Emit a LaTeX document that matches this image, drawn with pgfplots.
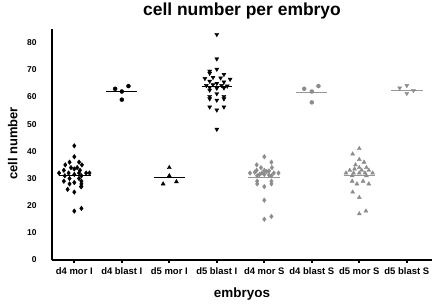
\documentclass[border=0pt]{standalone}
\usepackage{pgfplots}
\pgfplotsset{compat=1.18}
\usepackage{fontspec}
\setmainfont{Liberation Sans}
\definecolor{sgray}{RGB}{140,140,140}
\definecolor{lgray}{RGB}{150,150,150}
\begin{document}
\begin{tikzpicture}
\begin{axis}[
  at={(74.3bp,44bp)}, anchor=origin,
  scale only axis, width=380bp, height=231bp,
  xmin=-0.47, xmax=7.53, ymin=0, ymax=85,
  axis x line=bottom, axis y line=left,
  axis line style={line width=2.8pt, -},
  xtick={0,...,7},
  xticklabels={d4 mor I, d4 blast I, d5 mor I, d5 blast I, d4 mor S, d4 blast S, d5 mor S, d5 blast S},
  ytick={0,10,...,80},
  tick align=outside,
  major tick length=3pt,
  xtick style={line width=2pt, black},
  ytick style={draw=none},
  /pgf/number format/assume math mode=true,
  xticklabel style={font=\bfseries\fontsize{9.5}{11}\selectfont, yshift=-1pt},
  yticklabel style={font=\bfseries\fontsize{8.5}{10}\selectfont, xshift=-9pt},
  title={cell number per embryo},
  title style={font=\bfseries\fontsize{17.5}{20}\selectfont, at={(0.5,1.05)}, anchor=center, yshift=0pt},
  xlabel={embryos},
  xlabel style={font=\bfseries\fontsize{13.5}{16}\selectfont, at={(0.5,-0.147)}, anchor=center, yshift=0pt},
  ylabel={cell number},
  ylabel style={font=\bfseries\fontsize{13}{16}\selectfont, at={(-0.103,0.504)}, anchor=center, xshift=0pt},
  clip=false,
]
% d4 mor I
\addplot[only marks, mark=diamond*, mark size=2.3pt, black] coordinates {
(0,42) (0,38) (-0.1,36) (0.1,36) (-0.19,35) (0.16,35) (-0.07,34) (0.06,34)
(-0.22,33) (0,33.5) (0.12,33) (-0.32,32) (-0.12,32) (0.1,32) (0.25,32) (0.32,32)
(-0.2,31) (0,31.5) (0.15,31) (-0.1,30) (0.1,30) (-0.22,29) (0.15,29) (0,28.5)
(-0.1,28) (0.15,28) (0.15,27) (-0.14,26) (0.14,27) (0,25) (0.15,19) (0,18)};
\addplot[black, line width=0.8pt] coordinates {(-0.33,31) (0.35,31)};
% d4 blast I
\addplot[only marks, mark=*, mark size=2pt, black] coordinates {
(0.86,63) (1.14,64) (1,62) (1,59)};
\addplot[black, line width=0.8pt] coordinates {(0.67,62) (1.33,62)};
% d5 mor I
\addplot[only marks, mark=triangle*, mark size=2.3pt, black] coordinates {
(2,34) (2,31) (1.87,28) (2.15,28.8)};
\addplot[black, line width=0.8pt] coordinates {(1.67,30.5) (2.33,30.5)};
% d5 blast I
\addplot[only marks, mark=triangle*, mark options={rotate=180}, mark size=2.3pt, black] coordinates {
(3,83) (3,74) (3,70.2) (2.85,69.5) (2.85,68.7) (3.15,68.3) (2.75,66.8) (2.92,67.2)
(3.08,67) (3.28,66.5) (2.85,65.8) (3.15,65.5) (3,65) (2.78,64.2) (2.92,64.5) (3.1,64.2)
(3.22,64) (2.85,63.5) (3,63.2) (3.15,63.3) (2.85,62.5) (2.85,60.2) (3,61.2) (3.15,60.2)
(2.85,59.3) (3.15,59.3) (3,58.8) (2.85,56.3) (3.15,56.3) (3,55.2) (3,48.1)};
\addplot[black, line width=0.8pt] coordinates {(2.68,63.7) (3.33,63.7)};
% d4 mor S
\addplot[only marks, mark=diamond*, mark size=2.3pt, sgray] coordinates {
(4,38) (4.15,36) (3.84,35) (3.93,34) (4.16,34) (3.84,33) (4,33) (4.1,32.8)
(3.7,32) (3.8,32.3) (3.95,32) (4.05,32.5) (4.2,32) (4.3,32) (3.9,31.5) (4,31.5)
(4.1,31.2) (3.85,31) (4.15,31) (3.85,29) (4.15,29) (3.85,28) (4.15,28) (4,27)
(4,22) (4.15,16) (4,15)};
\addplot[lgray, line width=0.8pt] coordinates {(3.66,30.5) (4.33,30.5)};
% d4 blast S
\addplot[only marks, mark=*, mark size=2pt, sgray] coordinates {
(4.84,63) (5.14,64) (5,62) (5,58)};
\addplot[lgray, line width=0.8pt] coordinates {(4.67,61.8) (5.33,61.8)};
% d5 mor S
\addplot[only marks, mark=triangle*, mark size=2.3pt, sgray] coordinates {
(6,41) (5.86,39) (6,37) (6.1,36) (5.92,35) (6.15,34) (5.8,33) (6,34)
(5.9,33.5) (6.05,33) (6.2,33) (5.72,32) (5.88,32) (6,32) (6.12,32) (6.28,32)
(5.85,31) (6.15,31) (5.85,29) (6.08,29) (5.95,28) (6.2,28) (5.86,25) (6,23)
(6.14,18) (6,17)};
\addplot[lgray, line width=0.8pt] coordinates {(5.67,31) (6.34,31)};
% d5 blast S
\addplot[only marks, mark=triangle*, mark options={rotate=180}, mark size=2.3pt, sgray] coordinates {
(6.85,63.3) (7,64.2) (7.14,62.4) (7,61.3)};
\addplot[lgray, line width=0.8pt] coordinates {(6.67,62.5) (7.34,62.5)};
\end{axis}
\pgfresetboundingbox
\useasboundingbox (0,0) rectangle (436bp,304bp);
\end{tikzpicture}
\end{document}
